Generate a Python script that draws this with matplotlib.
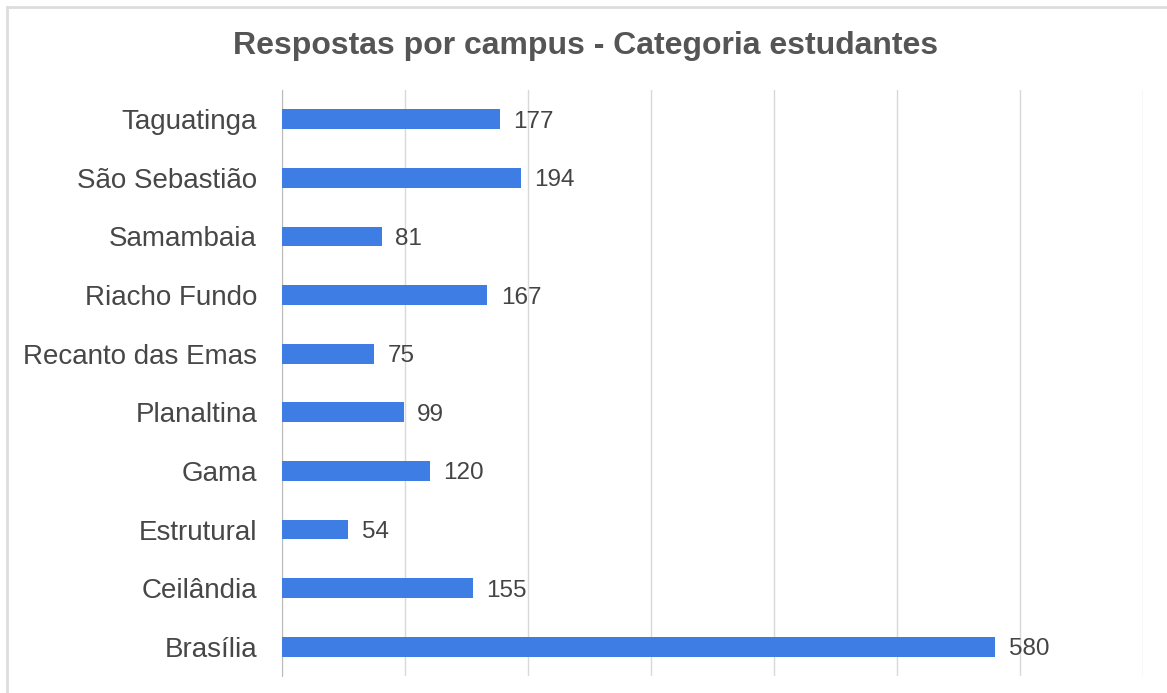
import matplotlib.pyplot as plt
from matplotlib.lines import Line2D

plt.rcParams['font.family'] = ['Liberation Sans', 'DejaVu Sans']

campi = ['Brasília', 'Ceilândia', 'Estrutural', 'Gama', 'Planaltina',
         'Recanto das Emas', 'Riacho Fundo', 'Samambaia', 'São Sebastião', 'Taguatinga']
respostas = [580, 155, 54, 120, 99, 75, 167, 81, 194, 177]
x_ticks = [0, 100, 200, 300, 400, 500, 600, 700]

fig = plt.figure(figsize=(11.67, 6.93), dpi=100)
ax = fig.add_axes([282 / 1167, 1 - 676 / 693, (1143 - 282) / 1167, (676 - 90) / 693])

pos = range(len(campi))
ax.barh(pos, respostas, height=0.34, color='#3d7de4', zorder=3)
for y, v in zip(pos, respostas):
    ax.text(v + 11, y, str(v), va='center_baseline', ha='left', fontsize=17.5,
            color='#444444', zorder=4)

ax.set_xlim(0, 700)
ax.set_ylim(-0.5, len(campi) - 0.5)
ax.set_xticks(x_ticks)
ax.set_xticklabels([])
ax.tick_params(axis='x', length=0)
ax.set_yticks(list(pos))
ax.set_yticklabels(campi, fontsize=20, color='#474747')
ax.tick_params(axis='y', length=0, pad=18)
ax.grid(axis='x', color='#d9d9d9', linewidth=1, zorder=0)
for s in ['top', 'right', 'bottom']:
    ax.spines[s].set_visible(False)
ax.spines['left'].set_color('#bbbbbb')

fig.text(586 / 1167, 1 - 46 / 693, 'Respostas por campus - Categoria estudantes',
         ha='center', va='center', fontsize=23, fontweight='bold', color='#555555')

# moldura clara da captura
fig.add_artist(Line2D([7 / 1167, 1], [1 - 7 / 693, 1 - 7 / 693], color='#dddddd', lw=2))
fig.add_artist(Line2D([7 / 1167, 7 / 1167], [0, 1 - 7 / 693], color='#dddddd', lw=2))

fig.savefig('out.png', dpi=100)
